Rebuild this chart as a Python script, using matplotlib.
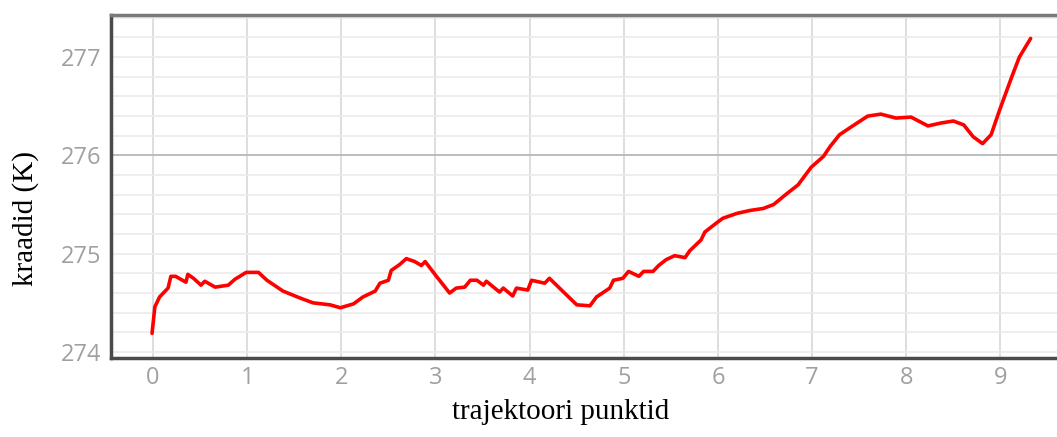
import numpy as np
import matplotlib
matplotlib.use('Agg')
import matplotlib.pyplot as plt
from matplotlib.ticker import MultipleLocator

# Temperature along the trajectory points
punkt = [-0.01, 0.02, 0.07, 0.13, 0.16, 0.19, 0.24, 0.35, 0.37, 0.43, 0.51, 0.55, 0.66, 0.80, 0.87,
         0.99, 1.12, 1.21, 1.38, 1.56, 1.70, 1.88, 1.99, 2.13, 2.23, 2.36, 2.41, 2.50, 2.53, 2.62,
         2.69, 2.78, 2.85, 2.89, 3.01, 3.15, 3.22, 3.31, 3.37, 3.44, 3.51, 3.54, 3.68, 3.72, 3.82,
         3.86, 3.98, 4.02, 4.16, 4.21, 4.36, 4.50, 4.64, 4.71, 4.85, 4.89, 4.99, 5.05, 5.16, 5.21,
         5.31, 5.37, 5.45, 5.54, 5.65, 5.70, 5.82, 5.86, 5.98, 6.05, 6.20, 6.34, 6.48, 6.59, 6.73,
         6.85, 6.99, 7.12, 7.19, 7.29, 7.43, 7.59, 7.73, 7.89, 8.05, 8.23, 8.37, 8.50, 8.61, 8.71,
         8.81, 8.90, 8.99, 9.12, 9.20, 9.32]
kraadid = [274.19, 274.46, 274.56, 274.62, 274.65, 274.77, 274.77, 274.71, 274.79, 274.75, 274.68,
           274.72, 274.66, 274.68, 274.74, 274.81, 274.81, 274.73, 274.62, 274.55, 274.50, 274.48,
           274.45, 274.49, 274.56, 274.62, 274.70, 274.73, 274.83, 274.89, 274.95, 274.92, 274.88,
           274.92, 274.77, 274.60, 274.65, 274.66, 274.73, 274.73, 274.68, 274.72, 274.61, 274.65,
           274.57, 274.65, 274.63, 274.73, 274.70, 274.75, 274.61, 274.48, 274.47, 274.56, 274.65,
           274.73, 274.75, 274.82, 274.77, 274.82, 274.82, 274.88, 274.94, 274.98, 274.96, 275.03,
           275.14, 275.22, 275.31, 275.36, 275.41, 275.44, 275.46, 275.50, 275.61, 275.70, 275.88,
           275.99, 276.09, 276.21, 276.30, 276.40, 276.42, 276.38, 276.39, 276.30, 276.33, 276.35,
           276.31, 276.19, 276.12, 276.21, 276.46, 276.80, 277.00, 277.19]

fig = plt.figure(figsize=(10.57, 4.37), dpi=100)
ax = fig.add_axes([0.105, 0.181, 0.895, 0.785])

# grid: light verticals at integers, horizontals every 0.2
ax.xaxis.set_major_locator(MultipleLocator(1))
ax.yaxis.set_major_locator(MultipleLocator(1))
ax.yaxis.set_minor_locator(MultipleLocator(0.2))
ax.grid(True, axis='x', which='major', color='#d8d8d8', lw=1.2)
ax.grid(True, axis='y', which='both', color='#ebebeb', lw=1.2)
ax.axhline(276, color='#b4b4b4', lw=1.2, zorder=1)
ax.set_axisbelow(True)

ax.plot(punkt, kraadid, color='red', lw=2.6, solid_joinstyle='round',
        solid_capstyle='round', zorder=3)

ax.set_xlim(-0.446, 9.60)
ax.set_ylim(273.94, 277.43)

for side in ['left', 'bottom']:
    ax.spines[side].set_color('#4a4a4a')
    ax.spines[side].set_linewidth(2.5)
ax.spines['top'].set_color('#7a7a7a')
ax.spines['top'].set_linewidth(2.5)
ax.spines['right'].set_visible(False)

ax.tick_params(which='both', length=0)
ax.tick_params(axis='y', pad=7)
ax.tick_params(axis='x', pad=6)
for lab in ax.get_xticklabels() + ax.get_yticklabels():
    lab.set_fontfamily('Open Sans')
    lab.set_fontsize(17)
    lab.set_color('#a0a0a0')

fig.text(0.0246, 0.501, 'kraadid (K)', rotation=90, ha='center', va='center',
         family='Liberation Serif', fontsize=21)
fig.text(0.530, 0.057, 'trajektoori punktid', ha='center', va='center',
         family='Liberation Serif', fontsize=21)

plt.savefig('out.png', dpi=100)
plt.close()
